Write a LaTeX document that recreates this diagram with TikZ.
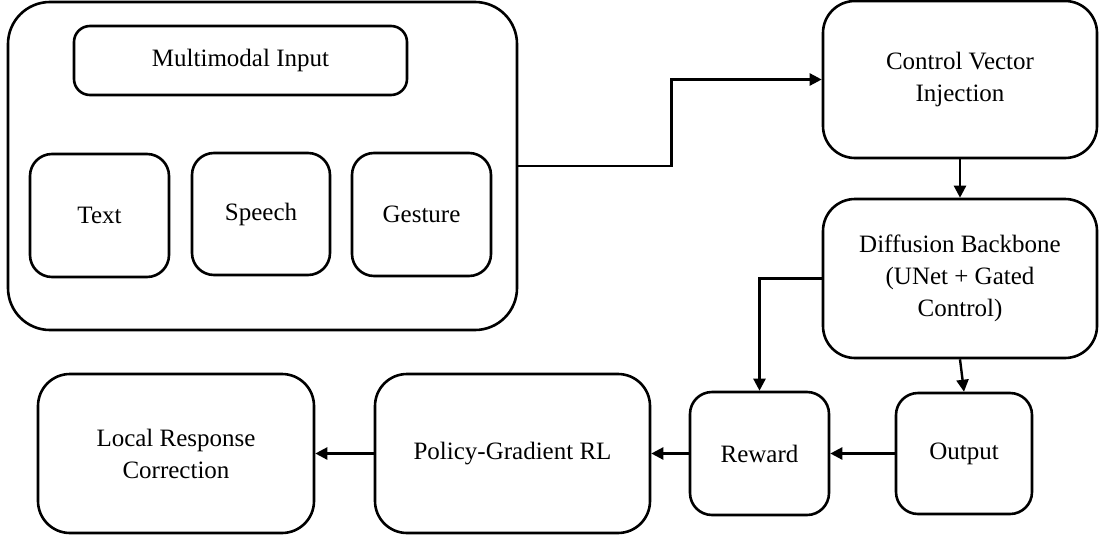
\documentclass[tikz,border=0pt]{standalone}
\usepackage{fontspec}
\setmainfont{Liberation Serif}
\usetikzlibrary{arrows.meta}
\begin{document}
\begin{tikzpicture}[x=1pt,y=-1pt,
  box/.style={draw=black, line width=2.6pt, rounded corners=22pt, inner sep=0pt, align=center,
    font=\fontsize{25}{32}\selectfont},
  bigbox/.style={box, rounded corners=42pt},
  arr/.style={line width=2.4pt, -{Triangle[length=12pt,width=12pt]}}]
\useasboundingbox (0,0) rectangle (1099,535);
\node[bigbox, minimum width=509pt, minimum height=328pt] (big) at (262.5,166) {};
\node[box, rounded corners=16pt, minimum width=333pt, minimum height=69pt] (mm) at (240.5,60.5) {Multimodal Input};
\node[box, minimum width=139pt, minimum height=123pt] (text) at (99.5,215.5) {Text};
\node[box, minimum width=138pt, minimum height=122pt] (speech) at (261,214) {Speech};
\node[box, minimum width=139pt, minimum height=123pt] (gesture) at (421.5,214.5) {Gesture};
\node[box, rounded corners=32pt, minimum width=274pt, minimum height=157pt] (cvi) at (960,79.5) {Control Vector\\Injection};
\node[box, rounded corners=32pt, minimum width=274pt, minimum height=159pt] (diff) at (960,278.5) {Diffusion Backbone\\(UNet + Gated\\Control)};
\node[box, rounded corners=32pt, minimum width=276pt, minimum height=159pt] (lrc) at (176,453.5) {Local Response\\Correction};
\node[box, rounded corners=32pt, minimum width=275pt, minimum height=159pt] (pg) at (512.5,453.5) {Policy-Gradient RL};
\node[box, minimum width=139pt, minimum height=123pt] (rew) at (759.5,453.5) {Reward};
\node[box, minimum width=136pt, minimum height=121pt] (out) at (964,453.5) {Output};
\draw[arr] (big.east) -- ++(153,0) |- (cvi.west);
\draw[arr] (cvi.south) -- (diff.north);
\draw[arr] (diff.west) -| (rew.north);
\draw[arr] (diff.south) -- (out.north);
\draw[arr] (out.west) -- (rew.east);
\draw[arr] (rew.west) -- (pg.east);
\draw[arr] (pg.west) -- (lrc.east);
\end{tikzpicture}
\end{document}
